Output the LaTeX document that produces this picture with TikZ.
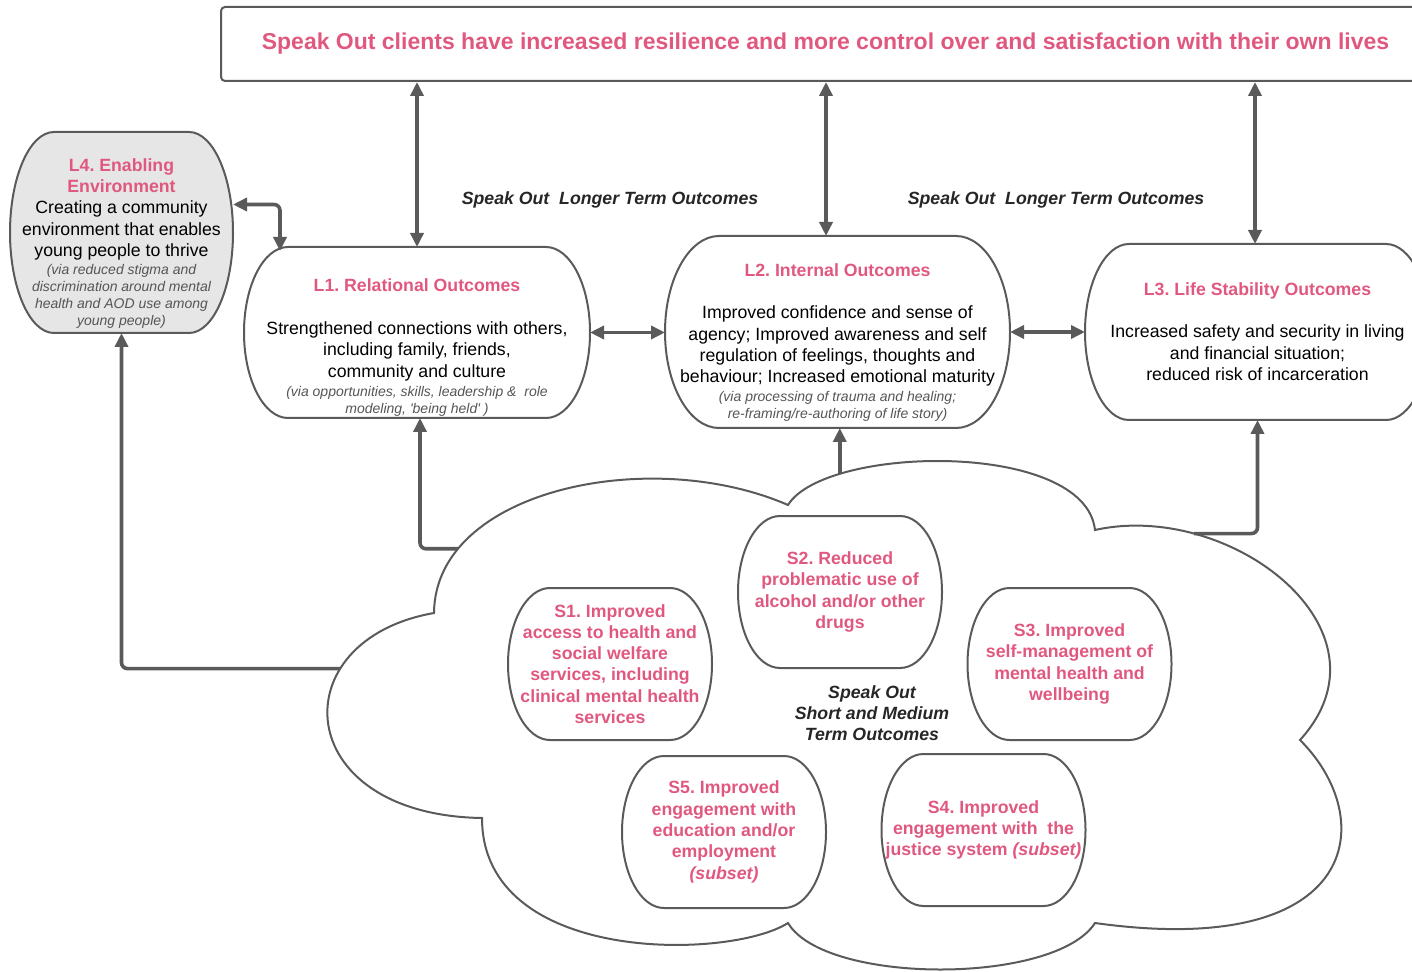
\documentclass[tikz,border=0pt]{standalone}
\usepackage{fontspec}
\setmainfont{Liberation Sans}
\usetikzlibrary{arrows.meta,calc}

\definecolor{sopink}{HTML}{E0587F}
\definecolor{linegray}{HTML}{5A5A5A}
\definecolor{notegray}{HTML}{555555}
\definecolor{envgray}{HTML}{E6E6E6}

\frenchspacing
\newcommand{\bodyfont}{\fontsize{8.85}{10.65}\selectfont}
\newcommand{\notefont}{\fontsize{7}{8.5}\selectfont\itshape\color{notegray}}
\newcommand{\headfont}{\bfseries\color{sopink}}

\tikzset{
  lbox/.style={inner sep=0pt, outer sep=0pt},
  ltext/.style={text width=#1, align=flush center, inner sep=0pt, font=\bodyfont},
  sbox/.style={minimum width=102pt, minimum height=76pt, text width=102pt, align=flush center,
    inner sep=0pt, outer sep=0pt, font=\bodyfont\bfseries, text=sopink},
  outline/.style={draw=linegray, line width=1pt},
  link/.style={draw=linegray, line width=1.8pt, rounded corners=3pt,
    -{Triangle[length=7pt,width=6.5pt]}},
  biarrow/.style={link, {Triangle[length=7pt,width=6.5pt]}-{Triangle[length=7pt,width=6.5pt]}},
  tag/.style={font=\bodyfont\bfseries\itshape, text=black!85, align=center}
}

\begin{document}
\begin{tikzpicture}[x=0.5pt, y=-0.5pt]
\useasboundingbox (0,0) rectangle (1412,972);

% long term goal
\node[outline, rounded corners=2pt, minimum width=604.5pt, minimum height=37pt, inner sep=0pt,
  font=\fontsize{11.5}{13}\selectfont\bfseries, text=sopink] (title) at (825.5,44)
  {Speak Out clients have increased resilience and more control over and satisfaction with their own lives};

% longer term outcome boxes
\node[lbox, minimum width=111.5pt, minimum height=100.5pt] (l4) at (121.5,232.5) {};
\node[lbox, minimum width=173pt, minimum height=85.5pt] (l1) at (417,332.5) {};
\node[lbox, minimum width=172.5pt, minimum height=96pt] (l2) at (837.5,332) {};
\node[lbox, minimum width=172.5pt, minimum height=88pt] (l3) at (1257.5,332) {};

% short and medium term outcome boxes
\node[sbox] (s1) at (610,664) {S1. Improved\\access to health and\\social welfare\\services, including\\clinical mental health\\services};
\node[sbox] (s2) at (840,592) {S2. Reduced\\problematic use of\\alcohol and/or other\\drugs};
\node[sbox] (s3) at (1069.5,664) {S3. Improved\\self-management of\\mental health and\\wellbeing};
\node[sbox] (s4) at (983.5,830) {S4. Improved\\engagement with\ \ the\\justice system \textit{(subset)}};
\node[sbox] (s5) at (724,832) {S5. Improved\\engagement with\\education and/or\\employment\\\textit{(subset)}};

\foreach \b/\r/\f in {l4/22/envgray, l1/22/none, l2/27/none, l3/22/none,
    s1/21/none, s2/21/none, s3/21/none, s4/21/none, s5/21/none}
  \draw[outline, fill=\f] let \p1=(\b.north west), \p2=(\b.south east), \n1={(\y1-\y2)/2} in
    (\x1+\r pt,\y1) -- (\x2-\r pt,\y1) arc[start angle=90, end angle=-90, x radius=\r pt, y radius=\n1]
    -- (\x1+\r pt,\y2) arc[start angle=270, end angle=90, x radius=\r pt, y radius=\n1] -- cycle;

\node[ltext=112pt] (l4-text) at (121.5,243.5)
  {{\headfont L4. Enabling\\Environment\par}
   Creating a community\\environment that enables\\young people to thrive\par
   {\notefont\vspace{0.5pt}(via reduced stigma and\\discrimination around mental\\health and AOD use among\\young people)\par}};
\node[ltext=172pt] (l1-text) at (417,347.5)
  {{\headfont L1. Relational Outcomes\par}\vspace{10.8pt}
   Strengthened connections with others,\\including family, friends,\\community and culture\par
   {\notefont\vspace{1pt}(via opportunities, skills, leadership \&\ \ role\\modeling, \textquotesingle being held\textquotesingle\ )\par}};
\node[ltext=172pt] (l2-text) at (837.5,342.5)
  {{\headfont L2. Internal Outcomes\par}\vspace{10.8pt}
   Improved confidence and sense of\\agency; Improved awareness and self\\regulation of feelings, thoughts and\\behaviour; Increased emotional maturity\par
   {\notefont\vspace{1pt}(via processing of trauma and healing;\\re-framing/re-authoring of life story)\par}};
\node[ltext=172pt] (l3-text) at (1257.5,331.5)
  {{\headfont L3. Life Stability Outcomes\par}\vspace{10.8pt}
   Increased safety and security in living\\and financial situation;\\reduced risk of incarceration\par};

% cloud of short and medium term outcomes
\draw[outline] (434,613) .. controls (435,490) and (650,445) .. (788,505) coordinate[pos=0.2] (c-l1)
  .. controls (825,445) and (1085,440) .. (1095,530) coordinate[pos=0.22] (c-l2)
  .. controls (1230,500) and (1400,630) .. (1300,740) coordinate[pos=0.24] (c-l3)
  .. controls (1380,820) and (1360,960) .. (1095,923)
  .. controls (1055,985) and (825,985) .. (788,923)
  .. controls (730,960) and (482,965) .. (482,818)
  .. controls (290,815) and (280,640) .. (434,613) coordinate[pos=0.7] (c-l4) -- cycle;

\node[tag] (lt-left) at (610,200) {Speak Out\ \ Longer Term Outcomes};
\node[tag] (lt-right) at (1056,200) {Speak Out\ \ Longer Term Outcomes};
\node[tag] (st-mid) at (872,713) {Speak Out\\Short and Medium\\Term Outcomes};

% connectors
\draw[biarrow] (l1.north) -- (l1.north |- title.south);
\draw[biarrow] ([xshift=-5.75pt]l2.north) -- ([xshift=-5.75pt]l2.north |- title.south);
\draw[biarrow] ([xshift=-1.25pt]l3.north) -- ([xshift=-1.25pt]l3.north |- title.south);
\draw[biarrow] ([yshift=14pt]l4.east) -| ([xshift=18pt,yshift=-2pt]l1.north west);
\draw[biarrow] (l1.east) -- (l1.east -| l2.west);
\draw[biarrow] (l2.east) -- (l2.east -| l3.west);
\draw[link] (c-l1) -| ([xshift=1.5pt]l1.south);
\draw[link] (c-l2) -- (c-l2 |- l2.south);
\draw[link] (c-l3) -| (l3.south);
\draw[link] (c-l4) -| (l4.south);
\end{tikzpicture}
\end{document}
